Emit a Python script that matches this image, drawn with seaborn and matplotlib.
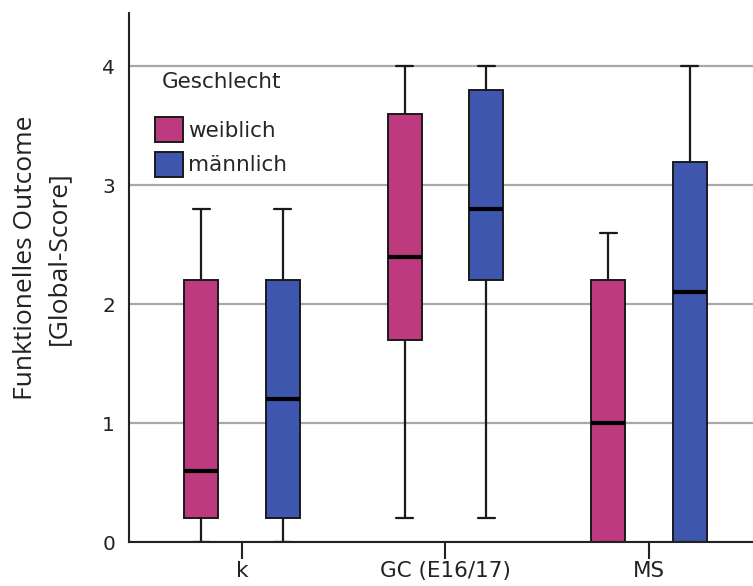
import numpy as np
import pandas as pd
import matplotlib
matplotlib.use("Agg")
import matplotlib.pyplot as plt
import seaborn as sns

# ---- data (five-number summaries: min, Q1, median, Q3, max) ----
categories = ["k", "GC (E16/17)", "MS"]
genders = ["weiblich", "männlich"]
weiblich_k = [0.0, 0.2, 0.6, 2.2, 2.8]
maennlich_k = [0.0, 0.2, 1.2, 2.2, 2.8]
weiblich_gc = [0.2, 1.7, 2.4, 3.6, 4.0]
maennlich_gc = [0.2, 2.2, 2.8, 3.8, 4.0]
weiblich_ms = [0.0, 0.0, 1.0, 2.2, 2.6]
maennlich_ms = [0.0, 0.0, 2.1, 3.2, 4.0]
y_ticks = [0, 1, 2, 3, 4]

series = {
    ("k", "weiblich"): weiblich_k,
    ("k", "männlich"): maennlich_k,
    ("GC (E16/17)", "weiblich"): weiblich_gc,
    ("GC (E16/17)", "männlich"): maennlich_gc,
    ("MS", "weiblich"): weiblich_ms,
    ("MS", "männlich"): maennlich_ms,
}
rows = []
for (cat, g), vals in series.items():
    for v in vals:
        rows.append({"Gruppe": cat, "Geschlecht": g, "Score": v})
df = pd.DataFrame(rows)

colors = {"weiblich": "#BE3A7E", "männlich": "#3E56AE"}

sns.set_theme(style="white")
plt.rcParams["font.family"] = ["DejaVu Sans"]

fig = plt.figure(figsize=(7.53, 5.86), dpi=100)
ax = fig.add_axes([129 / 753, 44 / 586, 624 / 753, 529 / 586])

sns.boxplot(
    data=df, x="Gruppe", y="Score", hue="Geschlecht",
    order=categories, hue_order=genders, palette=colors,
    whis=(0, 100), width=0.8, gap=0.58, saturation=1,
    linecolor="#1a1a1a", linewidth=1.4, showfliers=False,
    medianprops={"color": "black", "linewidth": 3.0},
    whiskerprops={"color": "#1a1a1a", "linewidth": 1.6},
    capprops={"color": "#1a1a1a", "linewidth": 1.6},
    ax=ax,
)

ax.set_xlim(-0.555, 2.511)
ax.set_ylim(0, 4.45)
ax.set_yticks(y_ticks)
ax.set_yticklabels([str(t) for t in y_ticks])
ax.yaxis.grid(True, color="#A8A8A8", linewidth=1.6)
ax.xaxis.grid(False)
ax.set_axisbelow(True)

for s in ["top", "right"]:
    ax.spines[s].set_visible(False)
for s in ["left", "bottom"]:
    ax.spines[s].set_color("#222222")
    ax.spines[s].set_linewidth(1.5)

ax.tick_params(axis="y", length=0, pad=10, labelsize=14.5, labelcolor="#222222")
ax.tick_params(axis="x", length=12, width=1.5, direction="out", color="#222222",
               pad=2, labelsize=15.5, labelcolor="#222222", bottom=True)

ax.set_xlabel("")
ax.set_ylabel("Funktionelles Outcome\n[Global-Score]", family=["Open Sans", "DejaVu Sans"],
              fontsize=19, linespacing=1.45, color="#222222")
ax.yaxis.set_label_coords(-0.092, 0.537)

leg = ax.legend(
    title="Geschlecht", loc="upper left", bbox_to_anchor=(0.042, 0.888),
    frameon=False, fontsize=15.5, title_fontsize=15.5, borderpad=0,
    handlelength=1.3, handleheight=1.4, handletextpad=0.23, labelspacing=0.45,
    borderaxespad=0,
)
leg._legend_box.sep = 18
for h in leg.legend_handles:
    h.set_edgecolor("#1a1a1a")
    h.set_linewidth(1.4)

fig.savefig("out.png", dpi=100)
